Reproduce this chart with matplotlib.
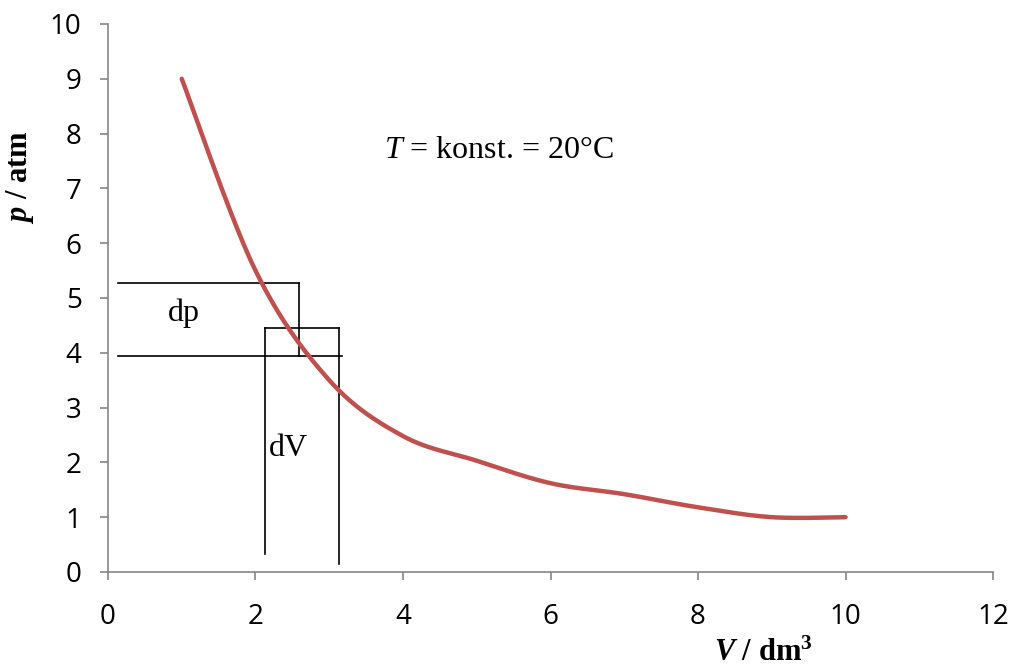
import numpy as np
import matplotlib.pyplot as plt

plt.rcParams['mathtext.fontset'] = 'custom'
plt.rcParams['mathtext.rm'] = 'Liberation Serif'
plt.rcParams['mathtext.it'] = 'Liberation Serif:italic'
plt.rcParams['mathtext.bf'] = 'Liberation Serif:bold'
plt.rcParams['mathtext.bfit'] = 'Liberation Serif:italic:bold'

# data points
volume = [1, 2, 3, 4, 5, 6, 7, 8, 9, 10]
pressure = [9.0, 5.5, 3.5, 2.48, 2.03, 1.62, 1.42, 1.18, 1.0, 1.0]

# helper construction lines (dp / dV)
dp_top = 5.27
dp_bottom = 3.95
dp_x_left = 0.14
dp_x_right = 2.59
dp_bottom_x_right = 3.17
dv_left = 2.13
dv_right = 3.13
dv_top = 4.46
dv_left_bottom = 0.33
dv_right_bottom = 0.15


def smooth(x, y, n=40):
    # Catmull-Rom like Excel "smoothed line"
    x = np.asarray(x, float)
    y = np.asarray(y, float)
    px = np.concatenate([[x[0]], x, [x[-1]]])
    py = np.concatenate([[y[0]], y, [y[-1]]])
    xs, ys = [], []
    t = np.linspace(0, 1, n)
    for i in range(1, len(px) - 2):
        p0, p1, p2, p3 = px[i - 1:i + 3]
        q0, q1, q2, q3 = py[i - 1:i + 3]
        bx = [p1, p1 + (p2 - p0) / 6, p2 - (p3 - p1) / 6, p2]
        by = [q1, q1 + (q2 - q0) / 6, q2 - (q3 - q1) / 6, q2]
        xs.append((1 - t)**3 * bx[0] + 3 * (1 - t)**2 * t * bx[1] + 3 * (1 - t) * t**2 * bx[2] + t**3 * bx[3])
        ys.append((1 - t)**3 * by[0] + 3 * (1 - t)**2 * t * by[1] + 3 * (1 - t) * t**2 * by[2] + t**3 * by[3])
    return np.concatenate(xs), np.concatenate(ys)


fig = plt.figure(figsize=(10.13, 6.7), dpi=100)
ax = fig.add_axes([0.1066, 0.1463, 0.8737, 0.8179])

sx, sy = smooth(volume, pressure)
ax.plot(sx, sy, color='#C0504D', lw=3.2, solid_capstyle='round', zorder=3)

k = dict(color='black', lw=1.2, zorder=2)
ax.plot([dp_x_left, dp_x_right], [dp_top, dp_top], **k)
ax.plot([dp_x_right, dp_x_right], [dp_top, dp_bottom], **k)
ax.plot([dp_x_left, dp_bottom_x_right], [dp_bottom, dp_bottom], **k)
ax.plot([dv_left, dv_right], [dv_top, dv_top], **k)
ax.plot([dv_left, dv_left], [dv_top, dv_left_bottom], **k)
ax.plot([dv_right, dv_right], [dv_top, dv_right_bottom], **k)

ax.text(1.03, 4.73, 'dp', fontsize=23, family='Liberation Serif', ha='center', va='center')
ax.text(2.45, 2.26, 'dV', fontsize=23, family='Liberation Serif', ha='center', va='center')
ax.text(5.3, 7.7, r'$\mathit{T}$ = konst. = 20°C', fontsize=23, family='Liberation Serif',
        ha='center', va='center')

ax.set_xlim(0, 12)
ax.set_ylim(0, 10)
ax.set_xticks(range(0, 13, 2))
ax.set_yticks(range(0, 11))
for s in ['top', 'right']:
    ax.spines[s].set_visible(False)
for s in ['left', 'bottom']:
    ax.spines[s].set_color('#868686')
    ax.spines[s].set_linewidth(1.2)
ax.tick_params(colors='#868686', length=6, width=1.2, labelcolor='black', labelsize=20)
ax.tick_params(axis='x', pad=16)
ax.tick_params(axis='y', pad=13)
for lab in ax.get_xticklabels() + ax.get_yticklabels():
    lab.set_family('Open Sans')

ax.set_xlabel(r'$\mathbfit{V}$ / dm$^\mathbf{3}$', fontsize=22, family='Liberation Serif', weight='bold')
ax.xaxis.set_label_coords(0.74, -0.122)
ax.set_ylabel(r'$\mathbfit{p}$ / atm', fontsize=22, family='Liberation Serif', weight='bold')
ax.yaxis.set_label_coords(-0.081, 0.72)

fig.savefig('out.png', dpi=100)
